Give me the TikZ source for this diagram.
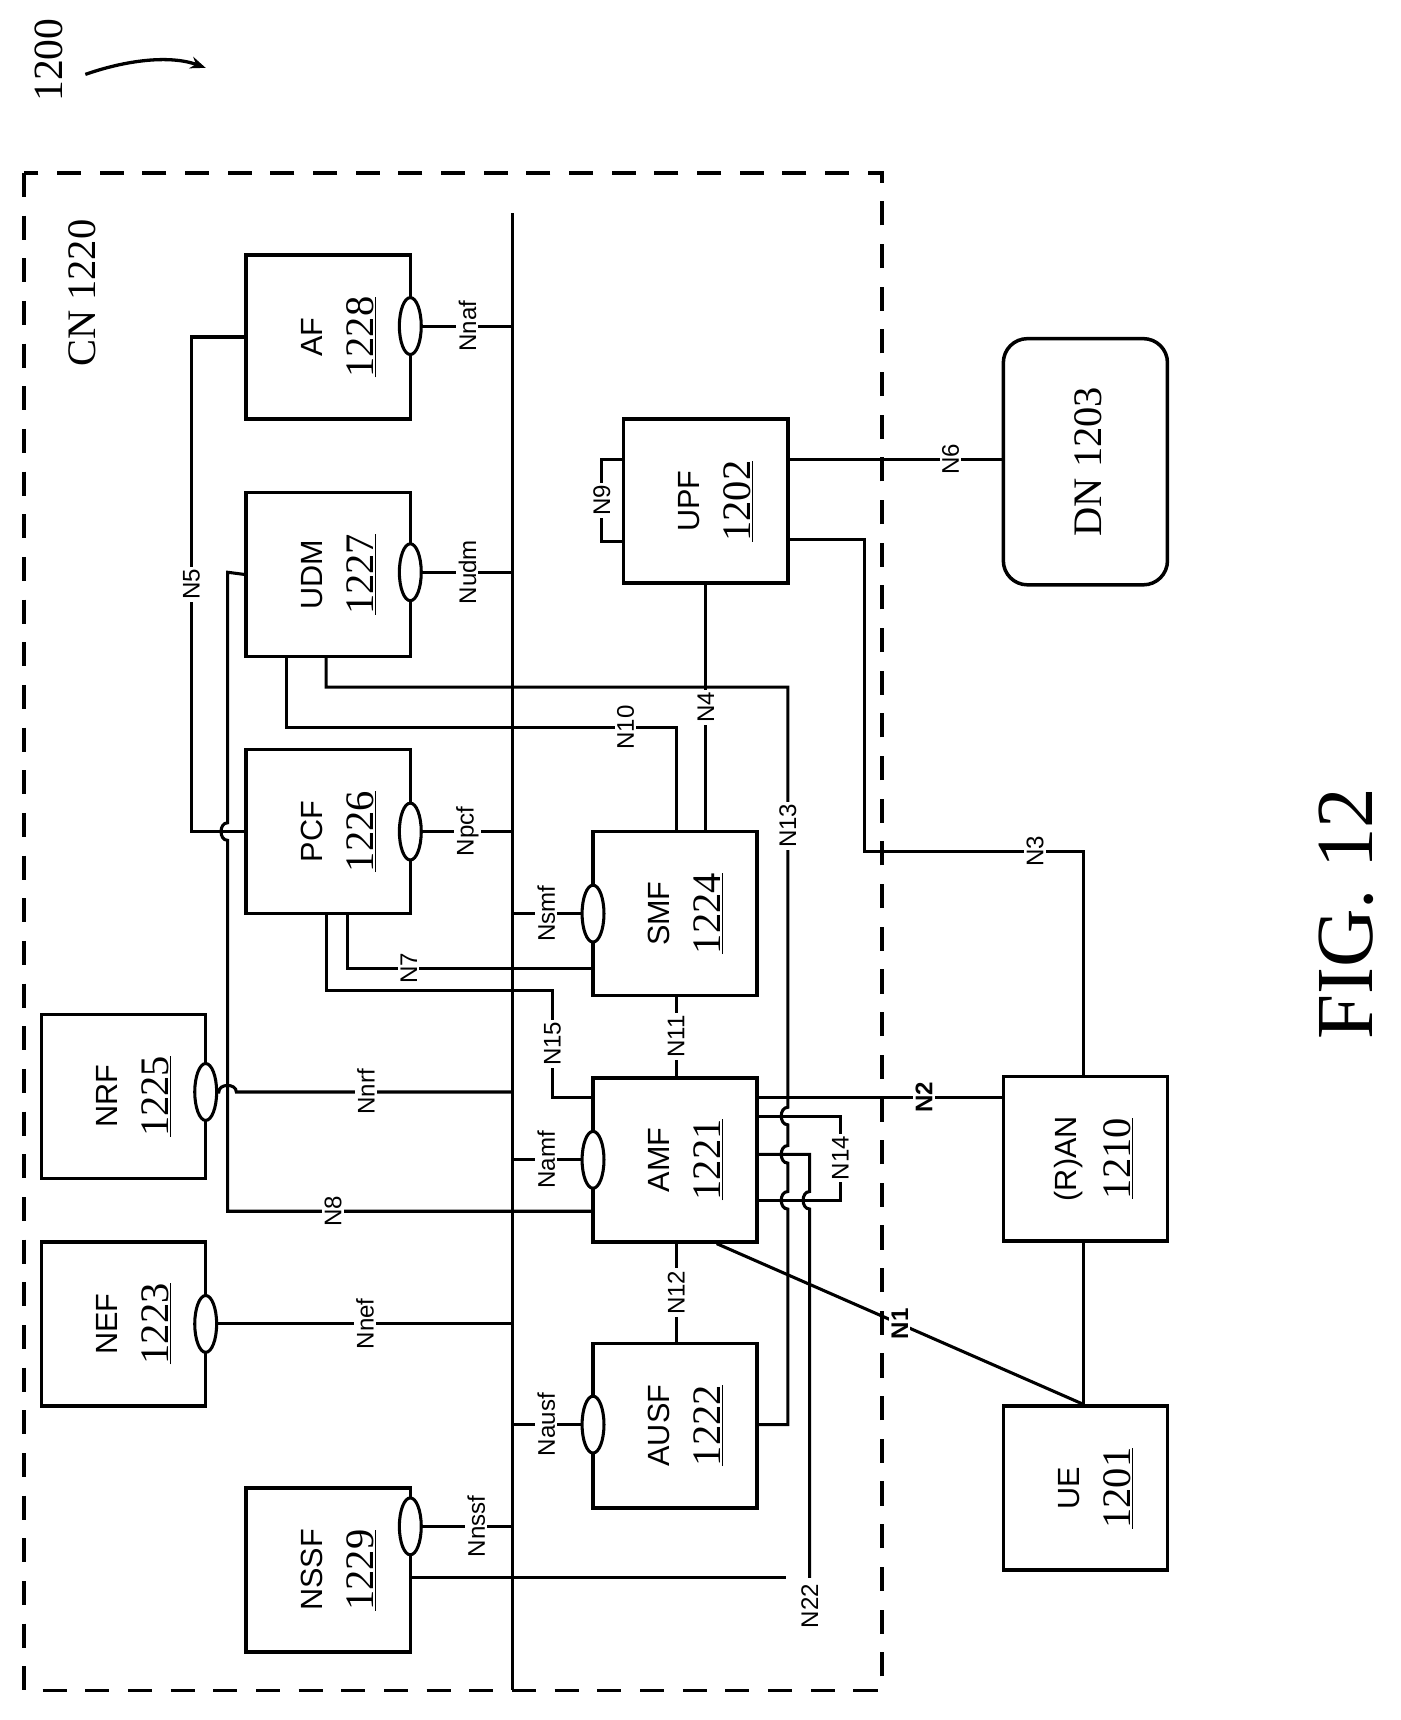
\documentclass[tikz,border=0pt]{standalone}
\usepackage{fontspec}
\setmainfont{Liberation Serif}
\setsansfont{Liberation Sans}
\usetikzlibrary{arrows.meta,shapes.geometric}
\begin{document}
\begin{tikzpicture}[x=1pt,y=-1pt,line width=2.8pt,
  box/.style={draw,line width=3.2pt,minimum width=150pt,minimum height=150pt,inner sep=0pt},
  ov/.style={draw,fill=white,ellipse,line width=2.8pt,minimum width=20pt,minimum height=52pt,inner sep=0pt},
  nm/.style={rotate=90,font=\sffamily\fontsize{28}{30}\selectfont},
  num/.style={rotate=90,font=\fontsize{37}{39}\selectfont},
  lab/.style={rotate=90,fill=white,inner sep=2pt,font=\sffamily\fontsize{22}{24}\selectfont},
  blab/.style={lab,font=\sffamily\bfseries\fontsize{22}{24}\selectfont}]
\useasboundingbox (0,0) rectangle (1280,1572);
\fill[white] (0,0) rectangle (1280,1572);
% title
\node[rotate=90,font=\fontsize{38}{40}\selectfont] (t1200) at (45,55) {1200};
\coordinate (arrS) at (78,68); \coordinate (arrE) at (188,62);
\draw[-{Stealth[length=14pt,width=11pt]},line width=3pt] (arrS) .. controls (115,55) and (155,50) .. (arrE);
\node[rotate=90,font=\fontsize{74}{76}\selectfont] (fig) at (1230,835) {FIG. 12};
% CN box
\draw[dash pattern=on 22pt off 17pt,line width=3pt] (22,158) rectangle (806,1545);
\node[rotate=90,font=\fontsize{37}{40}\selectfont] (cn) at (75,268) {CN 1220};
% bus
\coordinate (busT) at (468,195); \coordinate (busB) at (468,1545);
\draw (busT) -- (busB);
% boxes
\newcommand\nfbox[6]{\node[box,#6] (#1) at (#2,#3) {};
  \node[nm] at (#2-15,#3) {#4};
  \node[num] at (#2+30,#3) {\underline{#5}};}
\nfbox{af}{300}{308}{AF}{1228}{}
\nfbox{udm}{300}{525}{UDM}{1227}{}
\nfbox{pcf}{300}{760}{PCF}{1226}{}
\nfbox{nrf}{113}{1002}{NRF}{1225}{}
\nfbox{nef}{113}{1210}{NEF}{1223}{}
\nfbox{nssf}{300}{1435}{NSSF}{1229}{}
\nfbox{smf}{617}{835}{SMF}{1224}{}
\nfbox{amf}{617}{1060}{AMF}{1221}{}
\nfbox{ausf}{617}{1303}{AUSF}{1222}{}
\nfbox{upf}{645}{458}{UPF}{1202}{}
\nfbox{ran}{992}{1059}{(R)AN}{1210}{}
\nfbox{ue}{992}{1360}{UE}{1201}{}
\node[box,rounded corners=22pt,minimum height=225pt] (dn) at (992,422) {};
\node[num] at (995,422) {DN 1203};
% ovals (service interfaces)
\node[ov] (oaf) at (375,298) {};
\node[ov] (oudm) at (375,523) {};
\node[ov] (opcf) at (375,760) {};
\node[ov] (onrf) at (188,998) {};
\node[ov] (onef) at (188,1210) {};
\node[ov] (onssf) at (375,1395) {};
\node[ov] (osmf) at (542,835) {};
\node[ov] (oamf) at (542,1060) {};
\node[ov] (oausf) at (542,1302) {};
\draw (oaf.east) -- node[lab]{Nnaf} (oaf.east-|busT);
\draw (oudm.east) -- node[lab]{Nudm} (oudm.east-|busT);
\draw (opcf.east) -- node[lab]{Npcf} (opcf.east-|busT);
\draw (onssf.east) -- node[lab,pos=0.6]{Nnssf} (onssf.east-|busT);
\draw (onef.east) -- node[lab]{Nnef} (onef.east-|busT);
\draw (osmf.west) -- node[lab]{Nsmf} (osmf.west-|busT);
\draw (oamf.west) -- node[lab]{Namf} (oamf.west-|busT);
\draw (oausf.west) -- node[lab]{Nausf} (oausf.west-|busT);
% Nnrf with hop over x=208
\draw (onrf.east) -- (200,998) .. controls (200,990) and (216,990) .. (216,998) -- node[lab,pos=0.47]{Nnrf} (onrf.east-|busT);
% N5
\draw (af.west|-225,308) -- (175,308) -- node[lab]{N5} (175,760) -- (pcf.west|-225,760);
% N8 : UDM - AMF, vertical x=208 with hops
\draw (udm.west) -- (208,523) -- (208,752) .. controls (200,752) and (200,768) .. (208,768) -- (208,1107) -- node[lab,pos=0.29]{N8} (amf.west|-542,1107);
% N10
\draw (udm.south-|262,0) -- (262,665) -- node[lab,pos=0.87]{N10} (618,665) -- (smf.north-|618,0);
% N13 : UDM - AUSF
\draw (udm.south-|298,0) -- (298,628) -- (720,628) -- node[lab,pos=0.33]{N13} (720,1012)
  .. controls (712,1012) and (712,1028) .. (720,1028) -- (720,1047)
  .. controls (712,1047) and (712,1063) .. (720,1063) -- (720,1089)
  .. controls (712,1089) and (712,1105) .. (720,1105) -- (720,1302) -- (ausf.east|-692,1302);
% N4
\draw (upf.south-|645,0) -- node[lab]{N4} (smf.north-|645,0);
% N6
\draw (upf.east|-720,420) -- node[lab,pos=0.76]{N6} (dn.west|-917,420);
% N3
\draw (upf.east|-720,493) -- (790,493) -- (790,778) -- node[lab,pos=0.78]{N3} (990,778) -- (ran.north-|990,0);
% N7
\draw (pcf.south-|318,0) -- (318,885) -- node[lab,pos=0.25]{N7} (smf.west|-542,885);
% N15
\draw (pcf.south-|298,0) -- (298,905) -- (505,905) -- node[lab]{N15} (505,1003) -- (amf.west|-542,1003);
% N11, N12
\draw (smf.south-|618,0) -- node[lab]{N11} (amf.north-|618,0);
\draw (amf.south-|618,0) -- node[lab]{N12} (ausf.north-|618,0);
% N2
\draw (amf.east|-692,1003) -- node[blab,pos=0.68]{N2} (ran.west|-917,1003);
% N14 loop
\draw (amf.east|-692,1020) -- (768,1020) -- node[lab]{N14} (768,1097) -- (amf.east|-692,1097);
% N22 : AMF - NSSF
\draw (amf.east|-692,1055) -- (740,1055) -- (740,1089) .. controls (732,1089) and (732,1105) .. (740,1105) -- (740,1442);
\draw (nssf.east|-375,1442) -- (718,1442);
\node[lab,fill=none] (n22) at (740,1468) {N22};
% N1
\draw (amf.south east-|655,1135) -- node[blab,pos=0.5]{N1} (ue.north-|990,1285);
% RAN - UE
\draw (ran.south-|990,0) -- (ue.north-|990,0);
% N9 loop
\draw (upf.west|-570,420) -- (550,420) -- node[lab]{N9} (550,495) -- (upf.west|-570,495);
\end{tikzpicture}
\end{document}
